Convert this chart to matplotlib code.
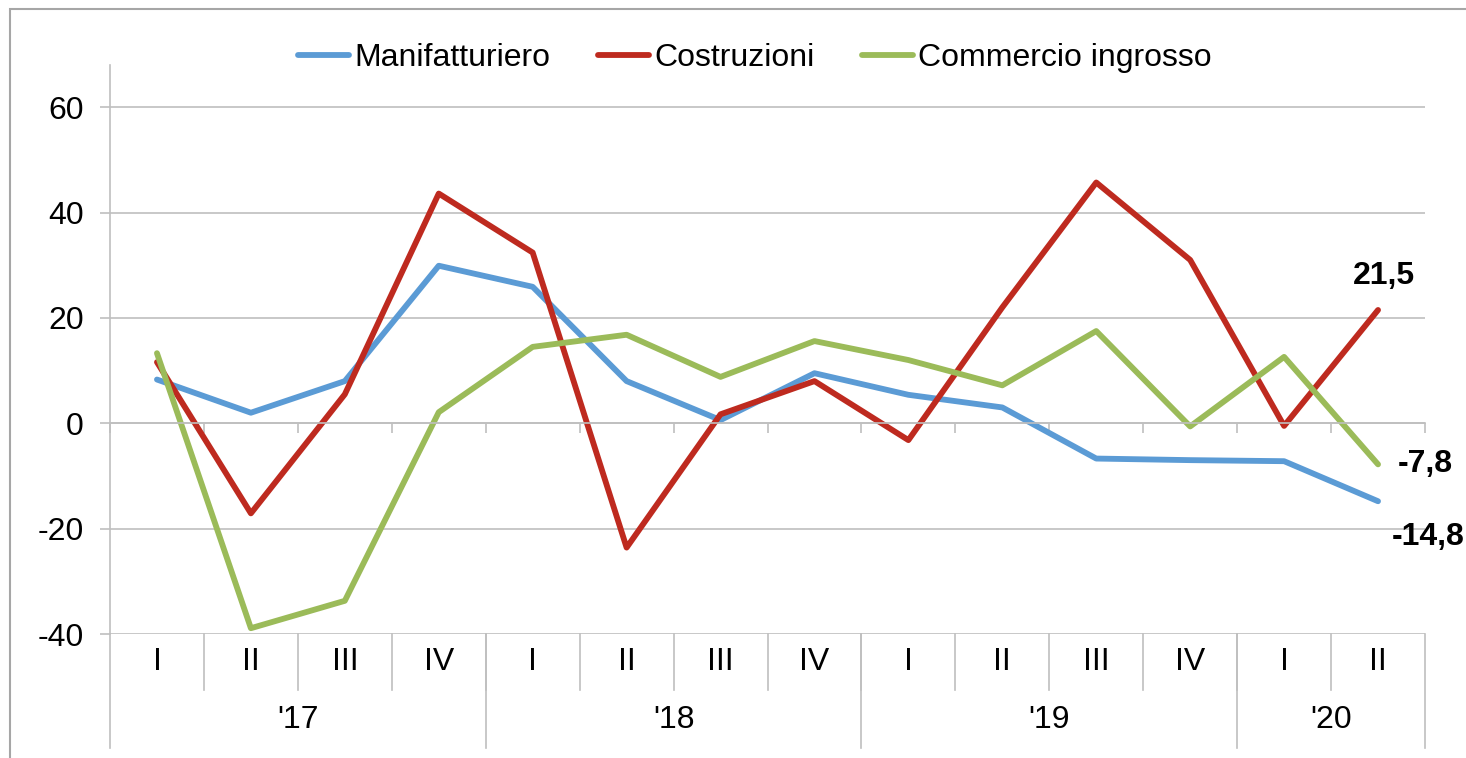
import matplotlib
matplotlib.use("Agg")
import matplotlib.pyplot as plt
import matplotlib.transforms as mtransforms
from matplotlib.patches import Rectangle
import numpy as np

plt.rcParams['font.family'] = ['Liberation Sans', 'DejaVu Sans']

# dati
trimestri = ["I", "II", "III", "IV", "I", "II", "III", "IV", "I", "II", "III", "IV", "I", "II"]
anni = ["'17", "'18", "'19", "'20"]
trim_per_anno = [4, 4, 4, 2]
manifatturiero = [8.3, 2.0, 8.0, 29.9, 25.9, 8.0, 0.6, 9.5, 5.4, 3.0, -6.7, -7.0, -7.2, -14.8]
costruzioni = [11.6, -17.1, 5.5, 43.6, 32.4, -23.6, 1.7, 8.0, -3.2, 22.0, 45.7, 31.0, -0.5, 21.5]
commercio = [13.3, -38.9, -33.7, 2.1, 14.5, 16.8, 8.8, 15.6, 12.0, 7.2, 17.5, -0.6, 12.6, -7.8]

blu = '#5B9BD5'
rosso = '#BE2A1F'
verde = '#9BBB59'
grigio = '#BFBFBF'
fs = 23

W, H = 1466, 758
fig = plt.figure(figsize=(W / 100, H / 100), dpi=100)
ax = fig.add_axes([110 / W, (H - 634) / H, (1425 - 110) / W, (634 - 65) / H])

x = np.arange(len(trimestri))
ax.plot(x, manifatturiero, color=blu, lw=4.2, label='Manifatturiero', solid_capstyle='round')
ax.plot(x, costruzioni, color=rosso, lw=4.2, label='Costruzioni', solid_capstyle='round')
ax.plot(x, commercio, color=verde, lw=4.2, label='Commercio ingrosso', solid_capstyle='round')

ax.set_xlim(-0.5, len(trimestri) - 0.5)
ax.set_ylim(-40, 68)
ax.set_yticks([-40, -20, 0, 20, 40, 60])
ax.set_yticklabels(['-40', '-20', '0', '20', '40', '60'])
ax.tick_params(axis='y', labelsize=fs, length=7, width=1.2, color=grigio, pad=12)
ax.yaxis.grid(True, color=grigio, lw=1.2)
ax.set_axisbelow(True)

# asse orizzontale a zero con tacche
ax.spines['bottom'].set_position(('data', 0))
ax.spines['bottom'].set_color(grigio)
ax.spines['bottom'].set_linewidth(1.2)
ax.set_xticks(np.arange(len(trimestri) + 1) - 0.5)
ax.tick_params(axis='x', length=7, width=1.2, color=grigio, labelbottom=False)
ax.spines['left'].set_color(grigio)
ax.spines['left'].set_linewidth(1.2)
ax.spines['top'].set_visible(False)
ax.spines['right'].set_visible(False)

# etichette categorie
tr = mtransforms.blended_transform_factory(ax.transData, ax.transAxes)
for i, t in enumerate(trimestri):
    ax.text(i, -0.049, t, transform=tr, ha='center', va='center', fontsize=fs)
for b in np.arange(1, len(trimestri)) - 0.5:
    ax.plot([b, b], [0, -0.0984], transform=tr, color=grigio, lw=1.2, clip_on=False)
start = 0
edges = [-0.5]
for a, n in zip(anni, trim_per_anno):
    ax.text(start + (n - 1) / 2, -0.151, a, transform=tr, ha='center', va='center', fontsize=fs)
    start += n
    edges.append(start - 0.5)
for b in edges:
    ax.plot([b, b], [0, -0.2004], transform=tr, color=grigio, lw=1.2, clip_on=False)

# etichette valori finali
last = len(trimestri) - 1
ax.annotate('21,5', (last, costruzioni[-1]), xytext=(4, 14), textcoords='offset points',
            ha='center', va='bottom', fontsize=fs, fontweight='bold')
ax.annotate('-7,8', (last, commercio[-1]), xytext=(14, 0), textcoords='offset points',
            ha='left', va='center', fontsize=fs, fontweight='bold')
ax.annotate('-14,8', (last, manifatturiero[-1]), xytext=(10, -26), textcoords='offset points',
            ha='left', va='center', fontsize=fs, fontweight='bold', annotation_clip=False)

fig.legend(loc='center', bbox_to_anchor=(755 / W, (H - 58) / H), ncol=3, frameon=False,
           fontsize=fs, handlelength=1.6, handletextpad=0.15, columnspacing=1.5)

# bordo esterno
fig.add_artist(Rectangle((10 / W, -0.05), 1.2, (H - 9) / H + 0.05, transform=fig.transFigure,
                         fill=False, edgecolor='#A6A6A6', lw=1.5))

fig.savefig('out.png', dpi=100)
